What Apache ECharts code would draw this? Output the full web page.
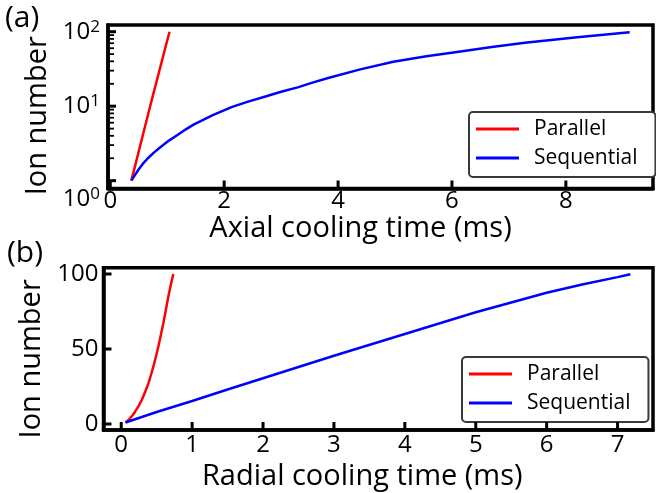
<!DOCTYPE html>
<html>
<head>
<meta charset="utf-8">
<script src="https://cdn.jsdelivr.net/npm/echarts@6/dist/echarts.min.js"></script>
<style>
  html, body { margin: 0; padding: 0; background: #fff; }
  #chart { width: 656px; height: 493px; }
</style>
</head>
<body>
<div id="chart"></div>
<script>
// Series names shared by both panels
const seriesNames = ['Parallel', 'Sequential'];

// (a) axial cooling: [time in ms, ion number]
const axialParallel = [[0.37, 1], [0.70, 10], [1.04, 100]];
const axialSequential = [
  [0.37, 1], [0.43, 1.18], [0.49, 1.39], [0.57, 1.68], [0.66, 2.0], [0.77, 2.4],
  [0.89, 2.86], [1.03, 3.45], [1.18, 4.1], [1.32, 4.85], [1.47, 5.7], [1.8, 7.6],
  [2.14, 9.8], [2.42, 11.5], [2.71, 13.4], [3.0, 15.6], [3.29, 17.9], [3.55, 20.7],
  [3.81, 23.7], [4.39, 31.2], [4.97, 39.6], [5.55, 46.8], [6.12, 53.9], [6.7, 62.3],
  [7.28, 71.2], [8.2, 84.3], [9.12, 98.2]
];

// (b) radial cooling: [time in ms, ion number]
const radialParallel = [
  [0.06, 1], [0.09, 2.1], [0.125, 3.8], [0.16, 5.8], [0.195, 8.2], [0.24, 11.6],
  [0.29, 16], [0.335, 21.2], [0.383, 27.1], [0.418, 32.5], [0.453, 38.2],
  [0.488, 44.7], [0.523, 51.5], [0.558, 59.2], [0.594, 67.1], [0.629, 76],
  [0.664, 84.9], [0.699, 92.7], [0.734, 100]
];
const radialSequential = [
  [0.06, 1], [0.5, 8], [1, 15.3], [1.5, 23], [2, 30.5], [3, 45.5], [4, 60],
  [5, 74.5], [6, 87.5], [6.5, 93], [7, 97.9], [7.18, 99.8]
];

// Axis ranges and tick steps
const axialTimeRange = [-0.04, 9.53];
const axialTimeStep = 2;
const axialIonRange = [0.785, 123];
const radialTimeRange = [-0.25, 7.5];
const radialTimeStep = 1;
const radialIonRange = [-4, 104.2];
const radialIonStep = 50;

// Tick positions (axis values) for the inward tick marks
const axialTimeTicks = [0, 2, 4, 6, 8];
const axialIonTicks = [1, 10, 100];
const axialIonMinorTicks = [2, 3, 4, 5, 6, 7, 8, 9, 20, 30, 40, 50, 60, 70, 80, 90];
const radialTimeTicks = [0, 1, 2, 3, 4, 5, 6, 7];
const radialIonTicks = [0, 50, 100];

const FONT = '"Open Sans", "DejaVu Sans", sans-serif';
const RED = '#ff0000';
const BLUE = '#0000ff';

function frameLine() {
  return { show: true, onZero: false, lineStyle: { color: '#000', width: 3.5 } };
}
const labelBase = { color: '#000', fontFamily: FONT, fontSize: 24 };
const nameBase = { color: '#000', fontFamily: FONT, fontSize: 29 };

function stepFormatter(step) {
  return function (v) {
    const k = v / step;
    return Math.abs(k - Math.round(k)) < 1e-9 ? String(Math.round(v)) : '';
  };
}

function powFormatter(v) {
  const e = Math.log10(v);
  const r = Math.round(e);
  if (Math.abs(e - r) > 1e-6 || r === 0) return '';
  return '{b|10}{s|' + r + '}';
}

const supRich = {
  b: { fontSize: 24, fontFamily: FONT, color: '#000', lineHeight: 27 },
  s: { fontSize: 17, fontFamily: FONT, color: '#000', verticalAlign: 'top', lineHeight: 17 }
};

const legendBase = {
  orient: 'vertical',
  data: seriesNames,
  icon: 'rect',
  itemWidth: 43,
  itemHeight: 3,
  itemGap: 7,
  padding: [6, 18, 8, 7],
  borderColor: '#3a3a3a',
  borderWidth: 2,
  borderRadius: 4,
  backgroundColor: '#fff',
  selectedMode: false,
  textStyle: { color: '#000', fontFamily: FONT, fontSize: 21, lineHeight: 22, padding: [0, 0, 0, 10] }
};

// Inward tick marks drawn as thin bars anchored on the frame through the axis scales
function tickMarks(axisIndex, points, size, offset) {
  return {
    type: 'scatter', xAxisIndex: axisIndex, yAxisIndex: axisIndex, silent: true,
    data: points, symbol: 'rect', symbolSize: size, symbolOffset: offset,
    itemStyle: { color: '#000', opacity: 1 }, clip: false, z: 5
  };
}

const option = {
  animation: false,
  backgroundColor: '#fff',
  grid: [
    { left: 108, right: -4, top: 25, bottom: 304.5, show: true, borderColor: '#000', borderWidth: 3.5 },
    { left: 103.5, right: 1.7, top: 267.7, bottom: 63, show: true, borderColor: '#000', borderWidth: 3.5 }
  ],
  xAxis: [
    {
      gridIndex: 0, type: 'value',
      min: axialTimeRange[0], max: axialTimeRange[1],
      minInterval: axialTimeStep, maxInterval: axialTimeStep,
      axisLine: frameLine(), axisTick: { show: false }, splitLine: { show: false },
      axisLabel: Object.assign({ margin: 1, formatter: stepFormatter(axialTimeStep) }, labelBase),
      name: 'Axial cooling time (ms)', nameLocation: 'middle', nameGap: 22,
      nameTextStyle: Object.assign({ padding: [0, 40, 0, 0] }, nameBase)
    },
    {
      gridIndex: 1, type: 'value',
      min: radialTimeRange[0], max: radialTimeRange[1],
      minInterval: radialTimeStep, maxInterval: radialTimeStep,
      axisLine: frameLine(), axisTick: { show: false }, splitLine: { show: false },
      axisLabel: Object.assign({ margin: 3.5, formatter: stepFormatter(radialTimeStep) }, labelBase),
      name: 'Radial cooling time (ms)', nameLocation: 'middle', nameGap: 32,
      nameTextStyle: Object.assign({ padding: [0, 32, 0, 0] }, nameBase)
    }
  ],
  yAxis: [
    {
      gridIndex: 0, type: 'log', logBase: 10,
      min: axialIonRange[0], max: axialIonRange[1],
      axisLine: frameLine(), axisTick: { show: false }, splitLine: { show: false },
      axisLabel: { margin: 8, formatter: powFormatter, rich: supRich, color: '#000', fontFamily: FONT, fontSize: 24 },
      name: 'Ion number', nameLocation: 'middle', nameGap: 49,
      nameTextStyle: Object.assign({ padding: [0, 18, 0, 0] }, nameBase)
    },
    {
      gridIndex: 1, type: 'value',
      min: radialIonRange[0], max: radialIonRange[1],
      minInterval: radialIonStep, maxInterval: radialIonStep,
      axisLine: frameLine(), axisTick: { show: false }, splitLine: { show: false },
      axisLabel: Object.assign({ margin: 5, formatter: stepFormatter(radialIonStep) }, labelBase),
      name: 'Ion number', nameLocation: 'middle', nameGap: 45,
      nameTextStyle: Object.assign({ padding: [0, 20, 0, 0] }, nameBase)
    }
  ],
  legend: [
    Object.assign({ left: 469, top: 112 }, legendBase),
    Object.assign({ left: 462, top: 357 }, legendBase)
  ],
  graphic: [
    { type: 'text', left: 5, top: 3, style: { text: '(a)', fill: '#000', font: '30px ' + FONT } },
    { type: 'text', left: 7, top: 238, style: { text: '(b)', fill: '#000', font: '30px ' + FONT } },
    {
      type: 'text', right: 656 - 100, top: 186,
      style: { text: '{b|10}{s|0}', rich: supRich, fill: '#000' }
    }
  ],
  series: [
    {
      name: seriesNames[0], type: 'line', xAxisIndex: 0, yAxisIndex: 0, data: axialParallel,
      showSymbol: false, color: RED, lineStyle: { color: RED, width: 2.5 }
    },
    {
      name: seriesNames[1], type: 'line', xAxisIndex: 0, yAxisIndex: 0, data: axialSequential,
      showSymbol: false, color: BLUE, lineStyle: { color: BLUE, width: 2.5 }
    },
    {
      name: seriesNames[0], type: 'line', xAxisIndex: 1, yAxisIndex: 1, data: radialParallel,
      showSymbol: false, color: RED, lineStyle: { color: RED, width: 2.5 }
    },
    {
      name: seriesNames[1], type: 'line', xAxisIndex: 1, yAxisIndex: 1, data: radialSequential,
      showSymbol: false, color: BLUE, lineStyle: { color: BLUE, width: 2.5 }
    },
    // panel (a) ticks
    tickMarks(0, axialTimeTicks.map(v => [v, axialIonRange[0]]), [3, 8], [0, -4]),
    tickMarks(0, axialIonTicks.map(v => [axialTimeRange[0], v]), [8, 3], [4, 0]),
    tickMarks(0, axialIonMinorTicks.map(v => [axialTimeRange[0], v]), [6, 1.8], [3, 0]),
    // panel (b) ticks
    tickMarks(1, radialTimeTicks.map(v => [v, radialIonRange[0]]), [3, 8], [0, -4]),
    tickMarks(1, radialIonTicks.map(v => [radialTimeRange[0], v]), [8, 3], [4, 0])
  ]
};

const chart = echarts.init(document.getElementById('chart'), null, { renderer: 'canvas' });
chart.setOption(option);
</script>
</body>
</html>
